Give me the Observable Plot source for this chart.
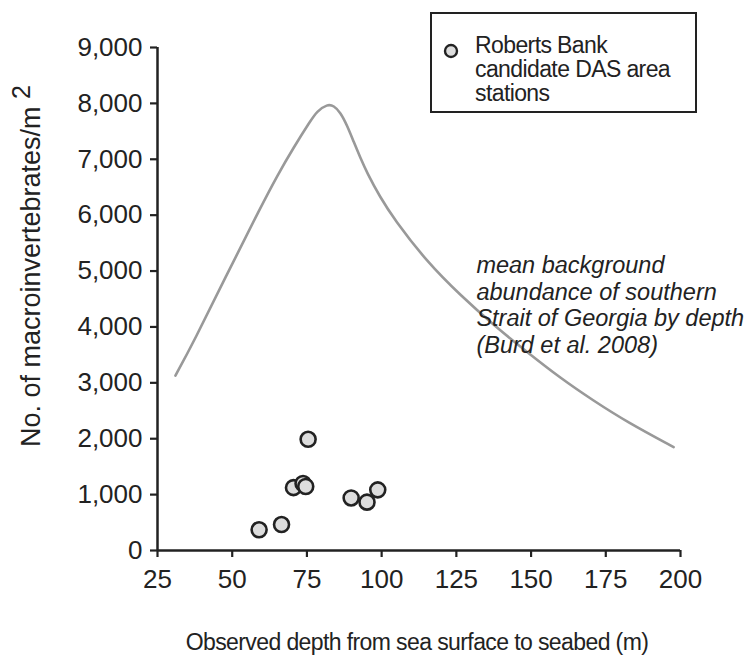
<!DOCTYPE html>
<html>
<head>
<meta charset="utf-8">
<script src="https://cdn.jsdelivr.net/npm/d3@7"></script>
<script src="https://cdn.jsdelivr.net/npm/@observablehq/plot@0.6"></script>
<style>
  html, body { margin: 0; padding: 0; background: #fff; }
  #chart svg { display: block; }
</style>
</head>
<body>
<div id="chart"></div>
<script>
// Roberts Bank candidate DAS area stations
const stationDepth = [59, 66.5, 70.5, 73.7, 74.6, 75.4, 89.8, 95.1, 98.7];
const stationAbundance = [370, 465, 1125, 1200, 1145, 1990, 940, 865, 1085];

// Mean background abundance curve (Burd et al. 2008)
const curveDepth = [31, 37.1, 48.3, 59.5, 65.1, 70.6, 76.2, 78.4, 81.8, 84, 86.2, 88.5, 90.7, 92.9, 95.1, 99.5, 104.1, 115.2, 126.4, 137.5, 148.7, 159.8, 170.9, 182.1, 197.7];
const curveAbundance = [3130, 3730, 4950, 6140, 6710, 7215, 7690, 7860, 7985, 7960, 7840, 7600, 7305, 7025, 6760, 6320, 5935, 5160, 4565, 4030, 3550, 3085, 2680, 2300, 1850];

const xTicks = [25, 50, 75, 100, 125, 150, 175, 200];
const yTicks = [0, 1000, 2000, 3000, 4000, 5000, 6000, 7000, 8000, 9000];

const annotationText = ["mean background\nabundance of southern\nStrait of Georgia by depth\n(Burd et al. 2008)"];
const annotationPos = [{x: 131.7, y: 5300}];
const legendLines = ["Roberts Bank", "candidate DAS area", "stations"];
const xLabel = "Observed depth from sea surface to seabed (m)";
const yLabel = "No. of macroinvertebrates/m";
const yLabelSup = "2";

const stations = stationDepth.map((d, i) => ({depth: d, abundance: stationAbundance[i]}));
const curve = curveDepth.map((d, i) => ({depth: d, abundance: curveAbundance[i]}));

const ink = "#222";
const font = "'Liberation Sans', Arial, sans-serif";
const W = 752, H = 658;

const chart = Plot.plot({
  width: W,
  height: H,
  marginLeft: 157,
  marginRight: 72,
  marginTop: 47,
  marginBottom: 108,
  style: {fontFamily: font, fontSize: "26px", color: ink, background: "#fff"},
  x: {domain: [25, 200], ticks: xTicks},
  y: {domain: [0, 9000], ticks: yTicks},
  marks: [
    Plot.axisX({ticks: xTicks, tickSize: 7, tickPadding: 12, strokeWidth: 2.2, stroke: ink, fill: ink, label: null, fontSize: 26}),
    Plot.axisY({ticks: yTicks, tickSize: 7, tickPadding: 8, strokeWidth: 2.2, stroke: ink, fill: ink, label: null, tickFormat: d3.format(","), fontSize: 26}),
    Plot.ruleX([25], {y1: 0, y2: 9000, stroke: ink, strokeWidth: 2.5}),
    Plot.ruleY([0], {x1: 25, x2: 200, stroke: ink, strokeWidth: 2.5}),
    Plot.line(curve, {x: "depth", y: "abundance", stroke: "#999", strokeWidth: 2.6, curve: "basis"}),
    Plot.dot(stations, {x: "depth", y: "abundance", r: 7.5, fill: "#ddd", stroke: ink, strokeWidth: 2.6}),
    Plot.text(annotationPos, {x: "x", y: "y", text: () => annotationText[0], textAnchor: "start", lineAnchor: "top", lineHeight: 1.13, fontSize: 23.5, fontStyle: "italic", fill: ink})
  ]
});

document.getElementById("chart").appendChild(chart);

const svg = d3.select(chart);

// Y axis label with raised 2
const yl = svg.append("text")
  .attr("transform", "translate(40,266) rotate(-90)")
  .attr("text-anchor", "middle")
  .attr("fill", ink)
  .attr("font-size", 27)
  .attr("font-family", font);
yl.append("tspan").text(yLabel + " ");
yl.append("tspan").attr("dy", -10).attr("font-size", 25).text(yLabelSup);

// X axis label
svg.append("text")
  .attr("x", 417)
  .attr("y", 650)
  .attr("text-anchor", "middle")
  .attr("fill", ink)
  .attr("font-size", 23)
  .attr("letter-spacing", -0.6)
  .attr("font-family", font)
  .text(xLabel);

// Legend box
const lg = svg.append("g");
lg.append("rect").attr("x", 431).attr("y", 13).attr("width", 265).attr("height", 99)
  .attr("fill", "#fff").attr("stroke", ink).attr("stroke-width", 2);
lg.append("circle").attr("cx", 451).attr("cy", 51).attr("r", 6)
  .attr("fill", "#ddd").attr("stroke", ink).attr("stroke-width", 2.4);
legendLines.forEach((t, i) => {
  lg.append("text").attr("x", 475).attr("y", 53 + i * 24)
    .attr("text-anchor", "start")
    .attr("fill", ink).attr("font-size", 23).attr("letter-spacing", -0.6)
    .attr("font-family", font)
    .text(t);
});
</script>
</body>
</html>
